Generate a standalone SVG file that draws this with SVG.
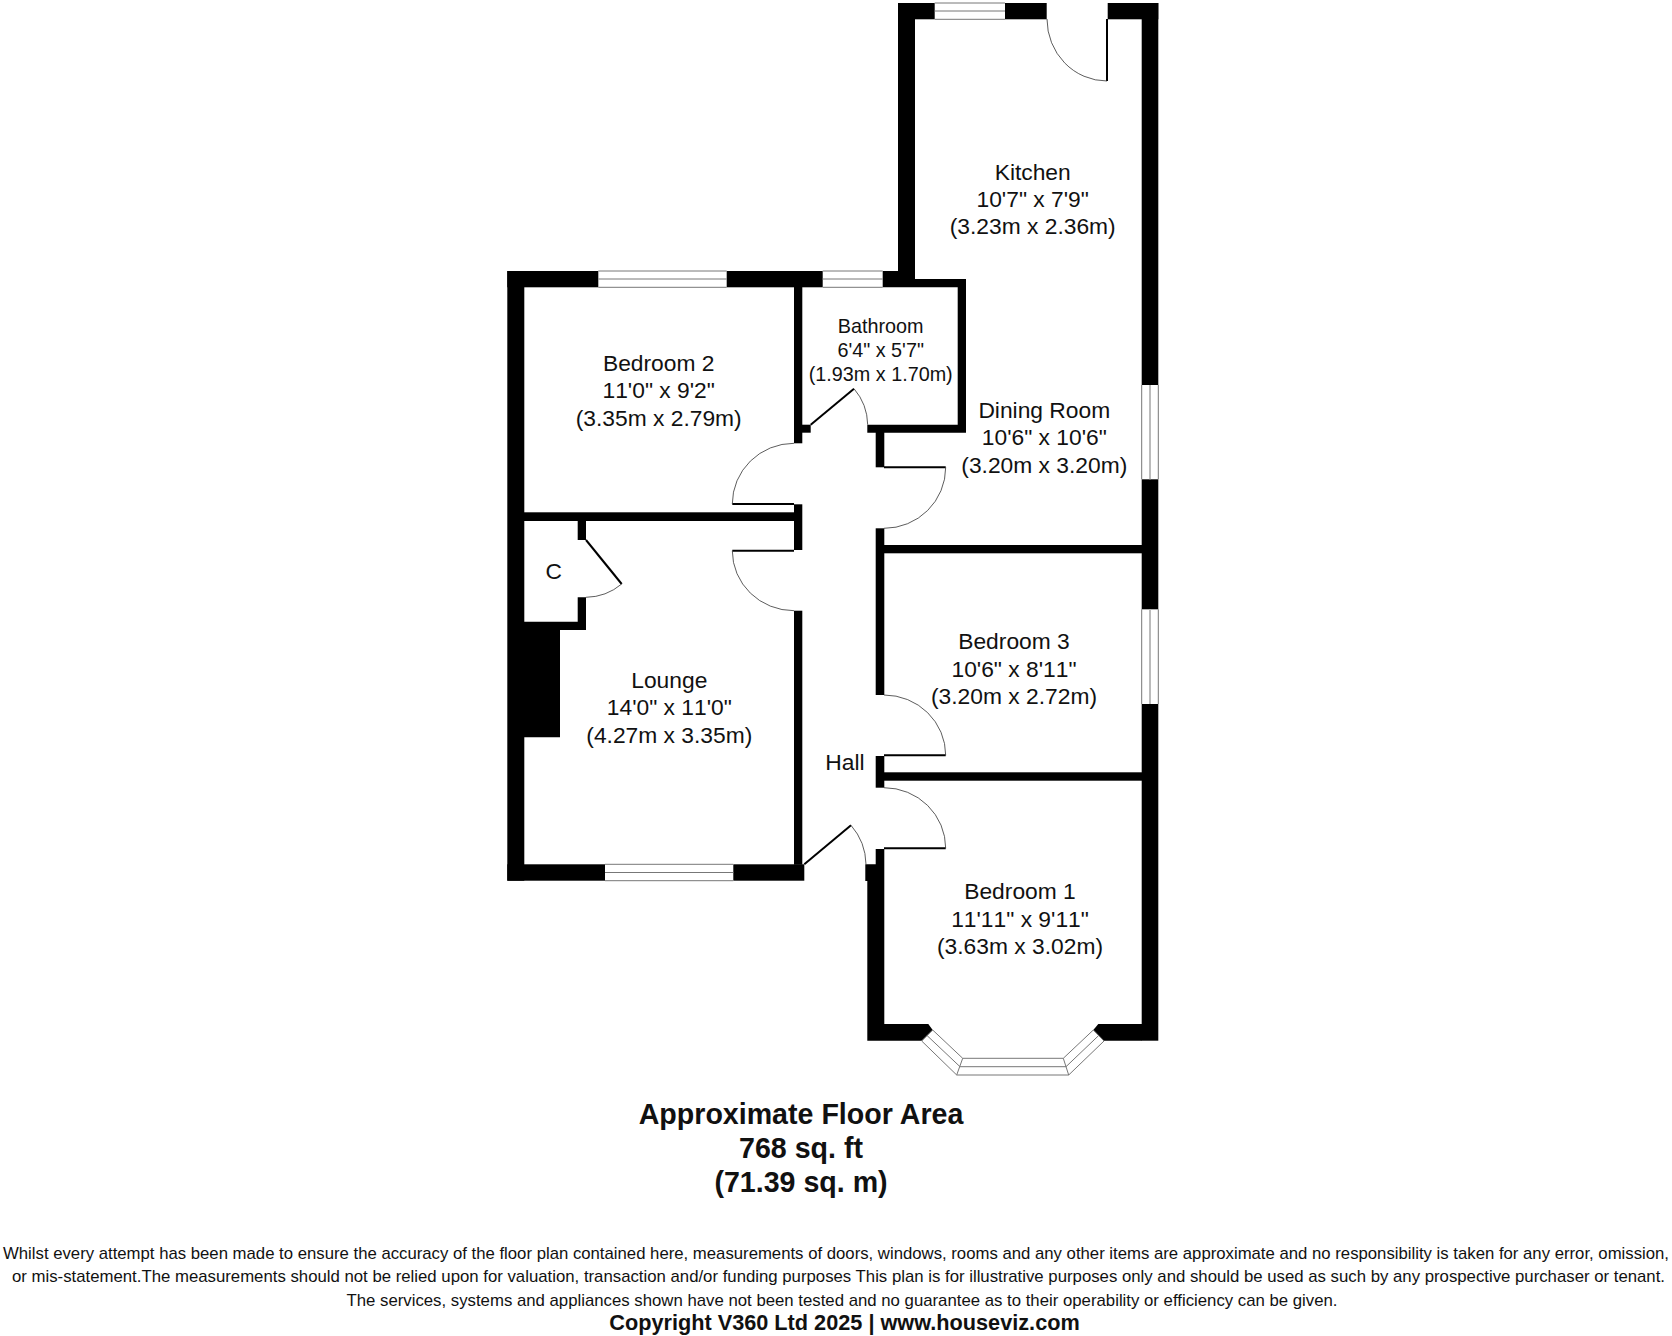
<svg xmlns="http://www.w3.org/2000/svg" width="1672" height="1336" viewBox="0 0 1672 1336">
<style>
.w{fill:#000}
.l{fill:none;stroke:#777;stroke-width:1}
.lr{fill:none;stroke:#bbb;stroke-width:2}
.leaf{fill:none;stroke:#000;stroke-width:2}
.arc{fill:none;stroke:#333;stroke-width:.8}
text{font-family:"Liberation Sans",Arial,sans-serif;fill:#111;text-anchor:middle}
.r{font-size:22.8px;font-kerning:none}
.b{font-size:19.8px;font-kerning:none}
.h{font-size:28.6px;font-weight:bold}
.f{font-size:16.4px}
.c{font-size:21.7px;font-weight:bold}
</style>
<rect width="1672" height="1336" fill="#fff"/>
<g id="walls">
<rect class="w" x="898" y="3" width="36.700" height="16.300"/>
<rect class="w" x="898" y="3" width="17" height="284"/>
<rect class="w" x="1005" y="3" width="41.700" height="16.300"/>
<rect class="w" x="1107.700" y="3" width="50.600" height="16.300"/>
<rect class="w" x="1141.700" y="3" width="16.600" height="382"/>
<rect class="w" x="1141.700" y="479.300" width="16.600" height="130"/>
<rect class="w" x="1141.700" y="704" width="16.600" height="336.700"/>
<rect class="w" x="507.300" y="271" width="91" height="16.300"/>
<rect class="w" x="726.700" y="271" width="96" height="16.300"/>
<path class="w" d="M882.700 271H915V279H966V432.700H867.300V424.700H957.700V287.300H882.700Z"/>
<rect class="w" x="507.300" y="271" width="17" height="609.700"/>
<rect class="w" x="507.300" y="864.300" width="97.700" height="16.400"/>
<rect class="w" x="733.300" y="864.300" width="71" height="16.400"/>
<rect class="w" x="794" y="287" width="8.300" height="156.300"/>
<rect class="w" x="802" y="424.700" width="8.700" height="8"/>
<rect class="w" x="794" y="504.300" width="8.300" height="45.700"/>
<rect class="w" x="794" y="610.700" width="8.300" height="254"/>
<rect class="w" x="524" y="512.300" width="270" height="8.700"/>
<rect class="w" x="577.700" y="521" width="8.300" height="19"/>
<path class="w" d="M577.700 597.300H586V630H560V737.300H524V630H524V621.700H577.700Z"/>
<rect class="w" x="875.700" y="432" width="8.600" height="35.300"/>
<rect class="w" x="875.700" y="528.300" width="8.600" height="166.700"/>
<rect class="w" x="884" y="545" width="258" height="8.300"/>
<rect class="w" x="875.700" y="756" width="8.600" height="31.700"/>
<rect class="w" x="884" y="772.300" width="258" height="8.400"/>
<path class="w" d="M875.700 849H884.300V1024H928.300L932.700 1030L921.700 1040.700H867.300V881H865.300V864.300H875.700Z"/>
<path class="w" d="M1098.300 1024H1142V1040.700H1104L1093.300 1030Z"/>
</g>
<g id="windows">
<path class="l" d="M934.700 3H1005M934.700 11H1005M934.700 19.300H1005"/>
<path class="l" d="M598.300 271H726.700M598.300 279H726.700M598.300 287.300H726.700"/>
<path class="l" d="M822.700 271H882.700M822.700 279H882.700M822.700 287.300H882.700"/>
<path class="l" d="M605 864.300H733.300M605 872.500H733.300M605 880.700H733.300"/>
<path class="lr" d="M1150 385V479.300M1150 609.300V704"/>
<path class="l" d="M1141.700 385V479.300M1158.300 385V479.300M1141.700 609.300V704M1158.300 609.300V704"/>
<path class="l" d="M921.700 1041L956.700 1075H1068.700L1104 1041M932.700 1030L962.700 1058.300H1063.300L1093.300 1030M927 1035.500L960 1066.700H1066L1098.700 1035.500M921.700 1041L932.700 1030M1104 1041L1093.300 1030M962.700 1058.300L956.700 1075M1063.300 1058.300L1068.700 1075"/>
</g>
<g id="doors">
<path class="leaf" d="M1107 19V81"/>
<path class="arc" d="M1047 19A60 62 0 0 0 1107 81"/>
<path class="leaf" d="M810.700 424.700L854 388.700"/>
<path class="arc" d="M854 388.700A57 57 0 0 1 867.700 424.700"/>
<path class="leaf" d="M884 467.300H945.700"/>
<path class="arc" d="M945.700 467.300A61.500 61 0 0 1 884 528.300"/>
<path class="leaf" d="M732.300 504H794"/>
<path class="arc" d="M732.300 504A61.700 60.700 0 0 1 794 443.300"/>
<path class="leaf" d="M732.300 550.700H794"/>
<path class="arc" d="M732.300 550.700A61.700 60 0 0 0 794 610.700"/>
<path class="leaf" d="M586 540L621.700 584"/>
<path class="arc" d="M621.700 584A57 57 0 0 1 586 597.300"/>
<path class="leaf" d="M884 755.300H945.700"/>
<path class="arc" d="M945.700 755.300A61.700 60.300 0 0 0 884 695"/>
<path class="leaf" d="M884 848.300H945.700"/>
<path class="arc" d="M945.700 848.300A61.700 60.600 0 0 0 884 787.700"/>
<path class="leaf" d="M804.300 864.300L851 825.300"/>
<path class="arc" d="M851 825.300A61 61 0 0 1 866 864.300"/>
</g>
<g id="kitchen" class="r"><text x="1032.700" y="179.500">Kitchen</text><text x="1032.700" y="207">10'7" x 7'9"</text><text x="1032.700" y="234">(3.23m x 2.36m)</text></g>
<g id="bedroom2" class="r"><text x="658.700" y="370.700">Bedroom 2</text><text x="658.700" y="398.300">11'0" x 9'2"</text><text x="658.700" y="425.700">(3.35m x 2.79m)</text></g>
<g id="bathroom" class="b"><text x="880.700" y="333.300">Bathroom</text><text x="880.700" y="357">6'4" x 5'7"</text><text x="880.700" y="380.700">(1.93m x 1.70m)</text></g>
<g id="dining" class="r"><text x="1044.300" y="418.300">Dining Room</text><text x="1044.300" y="445.300">10'6" x 10'6"</text><text x="1044.300" y="472.700">(3.20m x 3.20m)</text></g>
<g id="cupboard" class="r"><text x="553.800" y="579">C</text></g>
<g id="lounge" class="r"><text x="669.300" y="688">Lounge</text><text x="669.300" y="715">14'0" x 11'0"</text><text x="669.300" y="743">(4.27m x 3.35m)</text></g>
<g id="bedroom3" class="r"><text x="1014" y="649.300">Bedroom 3</text><text x="1014" y="676.500">10'6" x 8'11"</text><text x="1014" y="704">(3.20m x 2.72m)</text></g>
<g id="hall" class="r"><text x="845" y="770">Hall</text></g>
<g id="bedroom1" class="r"><text x="1020" y="899.300">Bedroom 1</text><text x="1020" y="926.700">11'11" x 9'11"</text><text x="1020" y="954.300">(3.63m x 3.02m)</text></g>
<g id="area" class="h"><text x="801" y="1124">Approximate Floor Area</text><text x="801" y="1158">768 sq. ft</text><text x="801" y="1192">(71.39 sq. m)</text></g>
<g id="footer">
<text class="f" x="836" y="1259" textLength="1666" lengthAdjust="spacingAndGlyphs">Whilst every attempt has been made to ensure the accuracy of the floor plan contained here, measurements of doors, windows, rooms and any other items are approximate and no responsibility is taken for any error, omission,</text>
<text class="f" x="838.500" y="1282" textLength="1653" lengthAdjust="spacingAndGlyphs">or mis-statement.The measurements should not be relied upon for valuation, transaction and/or funding purposes This plan is for illustrative purposes only and should be used as such by any prospective purchaser or tenant.</text>
<text class="f" x="842" y="1306" textLength="991" lengthAdjust="spacingAndGlyphs">The services, systems and appliances shown have not been tested and no guarantee as to their operability or efficiency can be given.</text>
<text class="c" x="844.500" y="1330">Copyright V360 Ltd 2025 | www.houseviz.com</text>
</g>
</svg>
